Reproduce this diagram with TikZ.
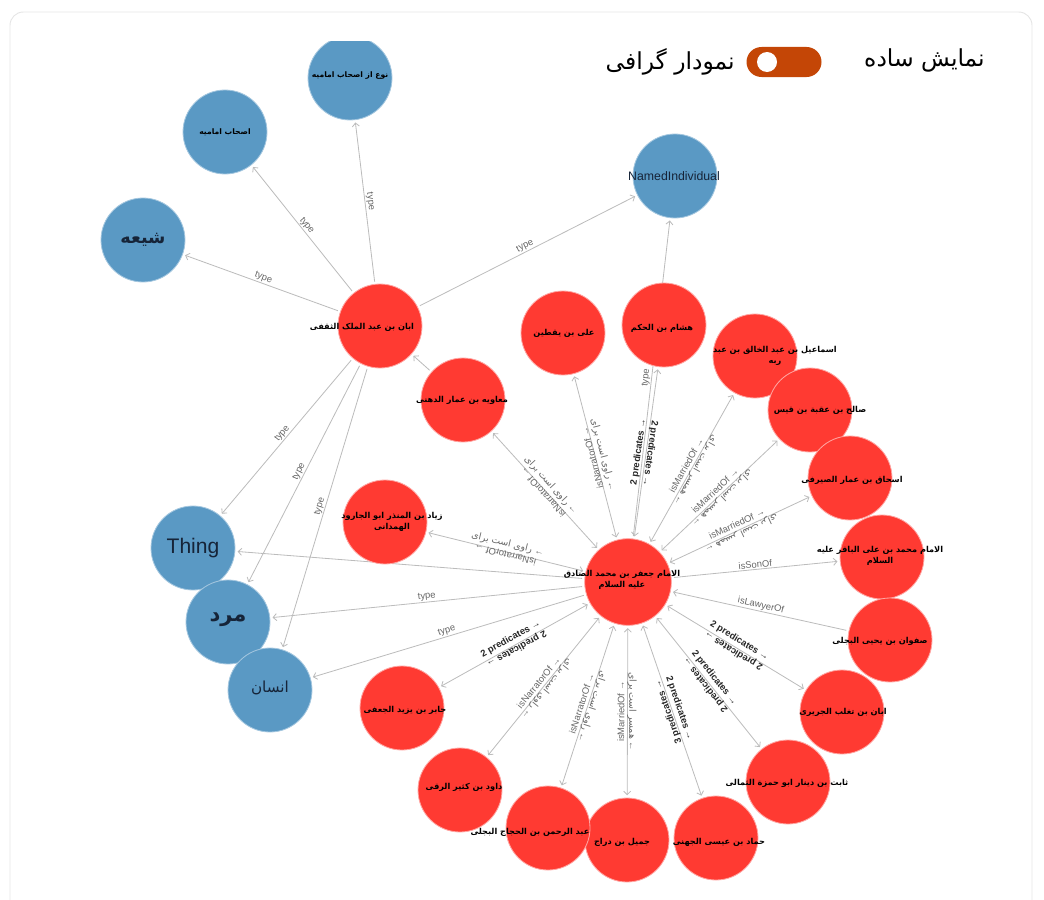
\documentclass[tikz,border=0pt]{standalone}
\usepackage{fontspec}
\setmainfont{Liberation Sans}
\newfontfamily\arfont[Script=Arabic]{DejaVu Sans}
\TeXXeTstate=1
\usetikzlibrary{arrows.meta,backgrounds}
\definecolor{nodeblue}{RGB}{90,153,196}
\definecolor{nodered}{RGB}{255,58,50}
\definecolor{linkgray}{RGB}{188,188,188}
\definecolor{togglered}{RGB}{196,70,6}
\definecolor{navy}{RGB}{22,36,56}
\newcommand{\fa}[1]{{\arfont\beginR #1\endR}}
\newcommand{\narfa}{\fa{راوی است برای} ←}
\newcommand{\naren}{isNarratorOf →}
\newcommand{\marfa}{\fa{همسر است برای} ←}
\newcommand{\maren}{isMarriedOf →}
\newcommand{\npred}[1]{#1 predicates →}
\tikzset{
  bluenode/.style={circle,fill=nodeblue,draw=nodeblue!55!white,line width=0.7pt,minimum size=2.52cm,inner sep=0pt},
  rednode/.style={circle,fill=nodered,draw=nodered!45!white,line width=0.7pt,minimum size=2.52cm,inner sep=0pt},
  nametext/.style={font=\bfseries\fontsize{7}{9}\selectfont,align=center,text=black,inner sep=0pt},
  link/.style={draw=linkgray,line width=0.7pt,shorten >=2pt,shorten <=2pt},
  lbl/.style={font=\fontsize{8}{9.5}\selectfont,text=black!60,inner sep=0.8pt,sloped,pos=0.5},
  blbl/.style={lbl,font=\bfseries\fontsize{8}{9.5}\selectfont,text=black!85},
  top/.style={above=1.5pt},
  upside/.style={rotate=180,above=-1.5pt},
}
\begin{document}
\begin{tikzpicture}[x=0.03cm,y=-0.03cm,>={Straight Barb[length=3pt,width=6pt]},line join=round,line cap=round]
\useasboundingbox (0,0) rectangle (1044,899);
% header
\node[font=\arfont\fontsize{20}{24}\selectfont,anchor=east,inner sep=0pt] (simple) at (985,60) {\fa{نمایش ساده}};
\node[font=\arfont\fontsize{20}{24}\selectfont,anchor=east,inner sep=0pt] (graphic) at (735,62) {\fa{نمودار گرافی}};
\node[fill=togglered,rounded corners=0.45cm,minimum width=2.25cm,minimum height=0.9cm,inner sep=0pt] (switch) at (784,62) {};
\fill[white] (767,62) circle (0.3cm);

\begin{scope}
\clip (0,42) rectangle (1044,899);
% classes
\node[bluenode] (nowe) at (350,78) {};
\node[nametext,font=\bfseries\fontsize{6.5}{8}\selectfont] at (350,76) {\fa{نوع از اصحاب امامیه}};
\node[bluenode] (ashab) at (225,132) {};
\node[nametext,font=\bfseries\fontsize{6.5}{8}\selectfont] at (225,132) {\fa{اصحاب امامیه}};
\node[bluenode] (shia) at (143,240) {};
\node[nametext,font=\bfseries\fontsize{15}{17}\selectfont,text=navy] at (143,240) {\fa{شیعه}};
\node[bluenode] (named) at (675,176) {};
\node[nametext,font=\fontsize{10.5}{12}\selectfont,text=navy] at (674,176) {NamedIndividual};
\node[bluenode] (thing) at (193,548) {};
\node[nametext,font=\fontsize{18}{20}\selectfont,text=navy] at (193,548) {Thing};
\node[bluenode] (mard) at (228,622) {};
\node[nametext,font=\bfseries\fontsize{18}{20}\selectfont,text=navy] at (228,620) {\fa{مرد}};
\node[bluenode] (ensan) at (270,690) {};
\node[nametext,font=\fontsize{13}{15}\selectfont,text=navy] at (270,688) {\fa{انسان}};
% narrators
\node[rednode] (abanM) at (380,326) {};
\node[nametext] at (362,327) {\fa{ابان بن عبد الملک الثقفی}};
\node[rednode] (moavie) at (463,400) {};
\node[nametext] at (462,400) {\fa{معاویه بن عمار الدهنی}};
\node[rednode] (ziad) at (385,522) {};
\node[nametext] at (392,522) {\fa{زیاد بن المنذر ابو الجارود}\\\fa{الهمدانی}};
\node[rednode] (ali) at (563,333) {};
\node[nametext] at (564,333) {\fa{علی بن یقطین}};
\node[rednode] (hesham) at (664,325) {};
\node[nametext] at (662,328) {\fa{هشام بن الحکم}};
\node[rednode] (esmail) at (755,356) {};
\node[nametext] at (775,356) {\fa{اسماعیل بن عبد الخالق بن عبد}\\\fa{ربه}};
\node[rednode] (saleh) at (810,410) {};
\node[nametext] at (820,410) {\fa{صالح بن عقبة بن قیس}};
\node[rednode] (eshagh) at (850,478) {};
\node[nametext] at (852,480) {\fa{اسحاق بن عمار الصیرفی}};
\node[rednode] (bagher) at (882,557) {};
\node[nametext] at (880,556) {\fa{الامام محمد بن علی الباقر علیه}\\\fa{السلام}};
\node[rednode] (safvan) at (890,640) {};
\node[nametext] at (880,641) {\fa{صفوان بن یحیی البجلی}};
\node[rednode] (taghleb) at (842,712) {};
\node[nametext] at (843,712) {\fa{ابان بن تغلب الجریری}};
\node[rednode] (sabet) at (788,782) {};
\node[nametext] at (787,783) {\fa{ثابت بن دینار ابو حمزة الثمالی}};
\node[rednode] (hammad) at (716,838) {};
\node[nametext] at (719,842) {\fa{حماد بن عیسی الجهنی}};
\node[rednode] (jamil) at (627,840) {};
\node[nametext] at (622,842) {\fa{جمیل بن دراج}};
\node[rednode] (abdol) at (548,828) {};
\node[nametext] at (530,832) {\fa{عبد الرحمن بن الحجاج البجلی}};
\node[rednode] (davood) at (460,790) {};
\node[nametext] at (464,787) {\fa{داود بن کثیر الرقی}};
\node[rednode] (jaber) at (402,708) {};
\node[nametext] at (405,710) {\fa{جابر بن یزید الجعفی}};
\node[rednode,minimum size=2.6cm] (sadegh) at (628,582) {};
\node[nametext] at (622,580) {\fa{الامام جعفر بن محمد الصادق}\\\fa{علیه السلام}};
\end{scope}

\begin{scope}[on background layer]
\draw[black!10,line width=0.8pt,rounded corners=0.4cm] (10,12) rectangle (1032,960);
% types of aban
\foreach \t in {shia,ashab,nowe,named,thing,mard,ensan}
  \draw[link,->] (abanM) -- (\t) node[lbl,above] {type};
\draw[link,->] (moavie) -- (abanM);
% types of sadegh
\draw[link,->] (sadegh) -- (named) node[lbl,above] {type};
\draw[link,->] (sadegh) -- (thing);
\draw[link,->] (sadegh) -- (mard) node[lbl,above] {type};
\draw[link,->] (sadegh) -- (ensan) node[lbl,above] {type};
% narrations
\foreach \n in {ziad,moavie,ali}
  \draw[link,<->] (sadegh) -- (\n) node[lbl,top] {\narfa} node[lbl,upside] {\naren};
\foreach \n in {abdol,davood}
  \draw[link,<->] (sadegh) -- (\n) node[lbl,top] {\naren} node[lbl,upside] {\narfa};
\foreach \n in {esmail,saleh,eshagh,jamil}
  \draw[link,<->] (sadegh) -- (\n) node[lbl,top] {\maren} node[lbl,upside] {\marfa};
\foreach \n in {hesham,taghleb,sabet,jaber}
  \draw[link,<->] (sadegh) -- (\n) node[blbl,top] {\npred{2}} node[blbl,upside] {\npred{2}};
\draw[link,<->] (sadegh) -- (hammad) node[blbl,top] {\npred{2}} node[blbl,upside] {\npred{3}};
\draw[link,->] (sadegh) -- (bagher) node[lbl,above] {isSonOf};
\draw[link,->] (safvan) -- (sadegh) node[lbl,above] {isLawyerOf};
\end{scope}
\end{tikzpicture}
\end{document}
